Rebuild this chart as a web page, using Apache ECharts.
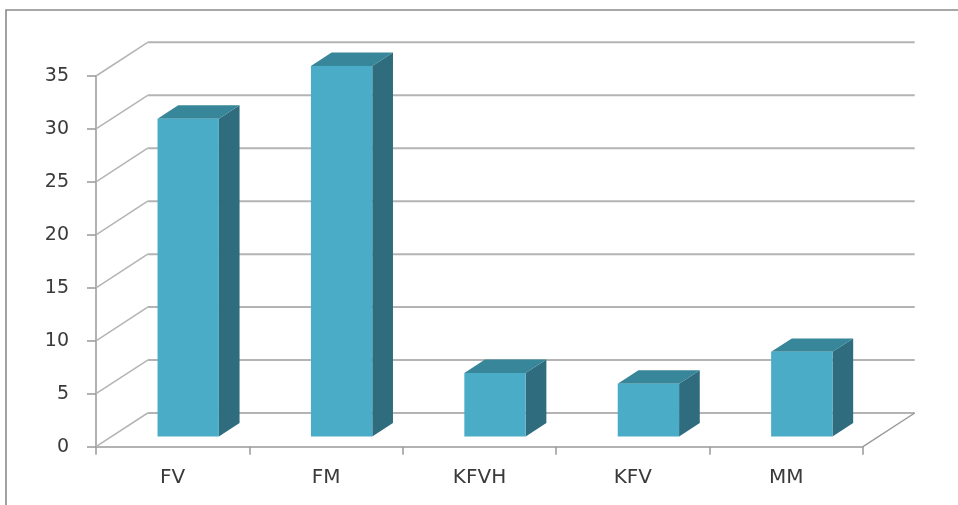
<!DOCTYPE html>
<html>
<head>
<meta charset="utf-8">
<script src="https://cdn.jsdelivr.net/npm/echarts@6/dist/echarts.min.js"></script>
<style>
  html, body { margin: 0; padding: 0; background: #ffffff; }
  #chart { width: 958px; height: 505px; }
</style>
</head>
<body>
<div id="chart"></div>
<script>
// Categories and counts
const categories = ['FV', 'FM', 'KFVH', 'KFV', 'MM'];
const counts = [30, 35, 6, 5, 8];
// Value levels that carry wall gridlines
const gridLevels = [0, 5, 10, 15, 20, 25, 30, 35];

// Oblique depth of the plot box in pixels (front plane -> back wall)
const DX = 51.7;
const DY = -33.7;
// Bars occupy the middle of the depth and 40% of each category band
const BAR_DEPTH_START = 0.3;
const BAR_DEPTH = 0.4;
const BAR_WIDTH = 0.4;

const chart = echarts.init(document.getElementById('chart'), null, { renderer: 'canvas' });

function wallRenderer(params, api) {
  const cs = params.coordSys;
  const v = api.value(1);
  const y = api.coord([0, v])[1];
  const left = cs.x;
  const right = cs.x + cs.width;
  const children = [
    {
      type: 'line',
      shape: { x1: left, y1: y, x2: left + DX, y2: y + DY },
      style: { stroke: '#b4b4b4', lineWidth: 1.5 }
    },
    {
      type: 'line',
      shape: { x1: left + DX, y1: y + DY, x2: right + DX, y2: y + DY },
      style: { stroke: '#b4b4b4', lineWidth: 2 }
    }
  ];
  if (v === 0) {
    // right edge of the floor
    children.push({
      type: 'line',
      shape: { x1: right, y1: y, x2: right + DX, y2: y + DY },
      style: { stroke: '#999999', lineWidth: 1.4 }
    });
  }
  return { type: 'group', children: children };
}

function barRenderer(params, api) {
  const i = api.value(0);
  const v = api.value(1);
  const base = api.coord([i, 0]);
  const top = api.coord([i, v]);
  const band = api.size([1, 0])[0];
  const w = band * BAR_WIDTH;
  const x0 = base[0] - w / 2 + BAR_DEPTH_START * DX;
  const yb = base[1] + BAR_DEPTH_START * DY;
  const yt = top[1] + BAR_DEPTH_START * DY;
  const dx = BAR_DEPTH * DX;
  const dy = BAR_DEPTH * DY;
  return {
    type: 'group',
    children: [
      {
        type: 'polygon',
        shape: { points: [[x0 + w, yt], [x0 + w + dx, yt + dy], [x0 + w + dx, yb + dy], [x0 + w, yb]] },
        style: { fill: '#2f6c7d' }
      },
      {
        type: 'polygon',
        shape: { points: [[x0, yt], [x0 + dx, yt + dy], [x0 + w + dx, yt + dy], [x0 + w, yt]] },
        style: { fill: '#378699' }
      },
      {
        type: 'rect',
        shape: { x: x0, y: yt, width: w, height: yb - yt },
        style: { fill: '#4bacc7' }
      }
    ]
  };
}

const option = {
  backgroundColor: '#ffffff',
  animation: false,
  graphic: [{
    type: 'polyline',
    shape: { points: [[6, 505], [6, 10], [958, 10]] },
    style: { stroke: '#8a8a8a', lineWidth: 1.6, fill: null },
    z: 100
  }],
  grid: { left: 96, right: 95, top: 76, bottom: 58.3, containLabel: false },
  xAxis: {
    type: 'category',
    data: categories,
    boundaryGap: true,
    axisLine: { show: true, lineStyle: { color: '#999999', width: 1.5 } },
    axisTick: { show: true, length: 8, lineStyle: { color: '#999999', width: 1.5 } },
    axisLabel: { fontFamily: 'DejaVu Sans', fontSize: 20, color: '#3a3a3a', margin: 21 },
    splitLine: { show: false }
  },
  yAxis: {
    type: 'value',
    min: 0,
    max: 35,
    interval: 5,
    axisLine: { show: true, lineStyle: { color: '#999999', width: 1.5 } },
    axisTick: { show: true, length: 9, lineStyle: { color: '#999999', width: 1.5 } },
    axisLabel: { fontFamily: 'DejaVu Sans', fontSize: 19, color: '#3a3a3a', margin: 27, padding: [6, 0, 0, 0] },
    splitLine: { show: false }
  },
  series: [
    {
      type: 'custom',
      name: 'walls',
      renderItem: wallRenderer,
      data: gridLevels.map(v => [0, v]),
      z: 1,
      silent: true
    },
    {
      type: 'custom',
      name: 'counts',
      renderItem: barRenderer,
      data: counts.map((v, i) => [i, v]),
      z: 2
    }
  ]
};

chart.setOption(option);
</script>
</body>
</html>
